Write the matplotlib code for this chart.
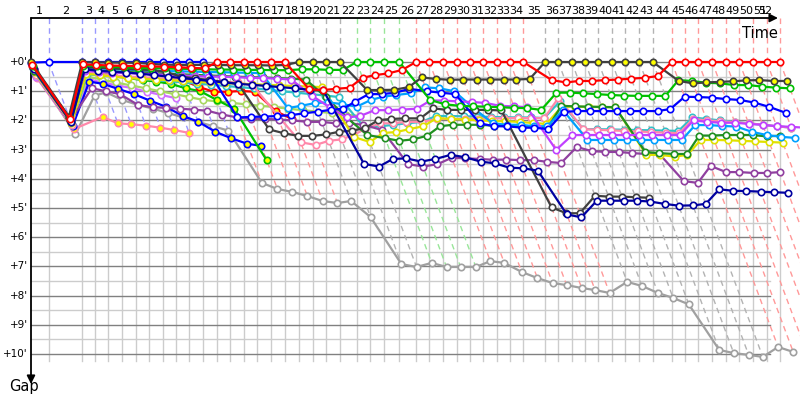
import matplotlib
matplotlib.use("Agg")
import matplotlib.pyplot as plt
from matplotlib.colors import to_rgb

# race time of the leader at the end of each lap, minutes (index 0 = start)
lap_time = [0.0, 1.61, 4.68, 5.87, 7.06, 8.35, 9.63, 10.83, 12.08, 13.28,
            14.52, 15.75, 17.04, 18.26, 19.54, 20.76, 21.99, 23.28, 24.61, 25.84,
            27.06, 28.35, 29.88, 31.10, 32.39, 33.79, 35.32, 36.54, 37.83, 39.06,
            40.28, 41.50, 42.78, 43.94, 45.17, 47.16, 48.38, 49.61, 50.83, 52.05,
            53.28, 54.50, 55.81, 57.04, 58.78, 60.00, 61.22, 62.50, 63.73, 64.98,
            66.21, 67.50, 68.72]
lap_labels = [str(i) for i in range(1, 53)]
gap_ticks = list(range(0, 11))

# gap to the leader at each lap, minutes
red_w = [0.1, 1.95, 0.08, 0.1, 0.12, 0.13, 0.14, 0.15, 0.16, 0.18, 0.2, 0.22,
         0, 0, 0, 0, 0, 0, 0.94, 0.96, 0.92, 0.88, 0.54, 0.45, 0.39, 0.27,
         0, 0, 0, 0, 0, 0, 0, 0, 0, 0.62, 0.7, 0.65, 0.65, 0.62, 0.6, 0.57, 0.54, 0.48,
         0, 0, 0, 0, 0, 0, 0, 0, 0]
black_y = [0.0, 1.87, 0.01, 0.01, 0.02, 0.02, 0.03, 0.06, 0.09, 0.1, 0.1, 0.1, 0.1,
           0.11, 0.11, 0.11, 0.12, 0.1, 0, 0, 0, 0, 0.96, 0.96, 0.95, 0.86,
           0.53, 0.58, 0.61, 0.6, 0.6, 0.6, 0.6, 0.6, 0.58, 0, 0, 0, 0, 0, 0, 0, 0, 0,
           0.65, 0.73, 0.7, 0.68, 0.66, 0.63, 0.62, 0.65, 0.65]
green_w = [0.15, 1.9, 0.12, 0.14, 0.16, 0.18, 0.2, 0.21, 0.22, 0.23, 0.24, 0.25, 0.26,
           0.26, 0.27, 0.27, 0.28, 0.28, 0.25, 0.25, 0.27, 0.27, 0, 0, 0, 0,
           1.3, 1.45, 1.5, 1.52, 1.53, 1.55, 1.57, 1.58, 1.64,
           1.05, 1.05, 1.07, 1.1, 1.13, 1.15, 1.16, 1.16, 1.16,
           0.62, 0.65, 0.71, 0.73, 0.79, 0.79, 0.84, 0.88, 0.9]
blue_w = [0.02, 0.0, 0, 0, 0, 0, 0, 0, 0, 0, 0, 0,
          1.9, 1.88, 1.87, 1.85, 1.82, 1.76, 1.7, 1.64, 1.6, 1.36, 1.1, 1.1, 1.05, 0.92,
          1.0, 1.05, 1.1, 2.1, 2.2, 2.2, 2.25, 2.25, 2.3, 1.71,
          1.68, 1.68, 1.68, 1.68, 1.68, 1.68, 1.68, 1.61,
          1.19, 1.2, 1.22, 1.27, 1.3, 1.39, 1.54, 1.74]
navy_w = [0.25, 2.05, 0.25, 0.3, 0.33, 0.36, 0.4, 0.45, 0.5, 0.55, 0.6, 0.65, 0.7,
          0.75, 0.78, 0.82, 0.86, 0.9, 0.95, 0.96, 3.49, 3.58, 3.32, 3.3, 3.41, 3.32,
          3.18, 3.26, 3.41, 3.47, 3.62, 3.64, 3.72, 5.22, 5.32, 4.75, 4.75, 4.75, 4.75,
          4.78, 4.86, 4.92, 4.91, 4.86, 4.36, 4.41, 4.42, 4.44, 4.46, 4.48]
black_w = [0.2, 2.0, 0.18, 0.2, 0.22, 0.24, 0.26, 0.27, 0.35, 0.5, 0.56, 0.62, 0.68,
           0.75, 2.31, 2.44, 2.53, 2.53, 2.48, 2.39, 2.35, 2.27, 1.99, 1.95, 1.93, 1.93,
           1.59, 1.64, 1.64, 1.64, 1.64, 1.66, 4.98, 5.18, 5.18,
           4.58, 4.61, 4.61, 4.63, 4.65]
gray_w = [0.3, 2.47, 1.15, 1.04, 1.3, 1.47, 1.6, 1.75, 1.9, 2.05, 2.2, 2.35,
          4.14, 4.35, 4.45, 4.59, 4.76, 4.83, 4.76, 5.31, 6.92, 7.02, 6.88, 7.02,
          7.02, 7.02, 6.82, 6.88, 7.19, 7.4, 7.57, 7.64, 7.74, 7.81, 7.91, 7.53,
          7.67, 7.91, 8.08, 8.3, 9.86, 9.97, 10.03, 10.1, 9.76, 9.93]
purple_w = [0.3, 2.0, 0.9, 1.0, 1.1, 1.47, 1.55, 1.57, 1.6, 1.63, 1.67,
            1.8, 1.9, 1.95, 1.95, 1.97, 2.0, 2.05, 2.05, 2.1, 2.1, 2.15,
            2.33, 3.5, 3.58, 3.5, 3.28, 3.3, 3.32, 3.35, 3.34, 3.36,
            3.36, 3.42, 3.46, 2.91, 3.05, 3.08, 3.08, 3.12, 3.15, 3.15,
            4.08, 4.14, 3.56, 3.77, 3.77, 3.8, 3.8, 3.77]
red_y = [0.12, 1.92, 0.1, 0.13, 0.16, 0.22, 0.27, 0.39, 0.5, 0.62, 0.85, 1.02,
         1.02, 0.99, 1.02, 1.68, 1.95]
green_y = [0.3, 2.0, 0.3, 0.38, 0.45, 0.55, 0.62, 0.67, 0.75, 0.9, 1.0, 1.3, 1.6, 3.36]
blue_y = [0.4, 2.2, 0.67, 0.75, 0.92, 1.1, 1.33, 1.53, 1.85, 2.04, 2.39, 2.61, 2.8, 2.87]
pink_y = [0.55, 2.3, 1.88, 2.1, 2.13, 2.18, 2.25, 2.33, 2.43]
violet_s = [0.5, 2.2, 0.6, 0.7, 0.8, 0.89, 1.02, 1.13, 1.24]
violet_w = [0.25, 1.95, 0.3, 0.33, 0.36, 0.38, 0.4, 0.42, 0.44, 0.46, 0.48, 0.5, 0.5,
            0.52, 0.54, 0.55, 0.57, 0.6, 1.15, 1.55, 1.9, 1.85, 1.65, 1.65, 1.63, 1.6,
            1.32, 1.32, 1.35, 1.37, 1.4, 1.5, 1.52, 1.55, 3.01,
            2.5, 2.5, 2.5, 2.5, 2.5, 2.5, 2.5, 2.5, 2.5,
            2.0, 2.05, 2.08, 2.08, 2.12, 2.15, 2.2, 2.22, 2.25]
pink_w = [0.45, 2.15, 0.35, 0.4, 0.45, 0.5, 0.52, 0.55, 0.58, 0.6, 0.62, 0.65, 0.68,
          0.7, 0.8, 1.8, 2.75, 2.84, 2.7, 2.65, 2.5, 2.3, 2.1, 2.1, 2.05, 2.05,
          1.95, 1.95, 1.95, 1.94, 1.93, 1.92, 1.92, 1.92, 1.92, 1.23,
          2.3, 2.32, 2.34, 2.36, 2.38, 2.4, 2.42, 2.44,
          1.95, 2.0, 2.03, 2.06, 2.1, 2.15, 2.2, 2.25]
yellow_w = [0.35, 2.1, 0.4, 0.45, 0.5, 0.55, 0.58, 0.6, 0.62, 0.65, 0.68, 0.7, 0.72,
            0.74, 0.76, 0.78, 0.8, 0.82, 0.84, 0.86, 2.57, 2.74, 2.43, 2.4, 2.3, 2.2,
            1.92, 1.95, 1.97, 2.0, 2.02, 2.03, 2.05, 2.09, 2.12,
            1.53, 1.53, 1.54, 1.54, 1.55, 3.18, 3.18, 3.24, 3.18,
            2.67, 2.67, 2.68, 2.7, 2.72, 2.74, 2.76]
dgreen_w = [0.3, 2.05, 0.28, 0.3, 0.32, 0.34, 0.36, 0.38, 0.4, 0.42, 0.44, 0.46, 0.48,
            0.5, 0.52, 0.53, 0.55, 0.57, 0.6, 1.2, 1.9, 2.5, 2.61, 2.7, 2.65, 2.53,
            2.2, 2.15, 2.15, 2.15, 2.18, 2.2, 2.2, 2.22, 2.25,
            1.5, 1.52, 1.53, 1.54, 1.55, 3.08, 3.12, 3.15, 3.15,
            2.52, 2.52, 2.5, 2.5, 2.5, 2.55, 2.52]
cyan_w = [0.2, 1.95, 0.2, 0.22, 0.24, 0.26, 0.28, 0.3, 0.31, 0.32, 0.33, 0.34, 0.35,
          0.36, 0.37, 0.38, 1.58, 1.5, 1.41, 1.38, 1.44, 1.53, 1.3, 1.19, 1.13, 1.07,
          0.87, 0.9, 1.0, 1.6, 2.1, 2.15, 2.15, 2.2, 2.2, 1.65,
          2.67, 2.67, 2.67, 2.67, 2.67, 2.67, 2.67, 2.67,
          2.16, 2.16, 2.19, 2.21, 2.39, 2.5, 2.56, 2.6]
turq_w = [0.45, 2.15, 0.42, 0.46, 0.5, 0.54, 0.58, 0.62, 0.66, 0.7, 0.74, 0.78, 0.82,
          0.86, 0.9, 0.95, 1.0, 1.05, 1.1, 1.15, 1.2, 2.25, 2.2, 2.15, 2.1, 2.05,
          1.85, 1.85, 1.86, 1.87, 1.88, 1.89, 1.9, 1.9, 1.92, 1.35,
          2.3, 2.3, 2.31, 2.32, 2.33, 2.34, 2.35, 2.36,
          1.9, 1.95, 2.0, 2.05, 2.1, 2.15, 2.2, 2.25]
lgreen_w = [0.35, 2.1, 0.5, 0.6, 0.7, 0.8, 0.9, 1.0, 1.1, 1.2, 1.3, 1.35, 1.4,
            1.45, 1.5, 1.54, 1.6, 1.65, 1.7, 1.75, 1.8, 1.85]

# (line colour, marker face, gaps), back to front
drivers = [
    ("#a0a0a0", "white", gray_w),
    ("#ff88aa", "yellow", pink_y),
    ("#d070ff", "white", violet_s),
    ("#a8d860", "white", lgreen_w),
    ("#0000ff", "yellow", blue_y),
    ("#00c000", "yellow", green_y),
    ("#ff0000", "yellow", red_y),
    ("#30c0c8", "white", turq_w),
    ("#ff88aa", "white", pink_w),
    ("#9040a0", "white", purple_w),
    ("#e0e000", "white", yellow_w),
    ("#209020", "white", dgreen_w),
    ("#00a0ff", "white", cyan_w),
    ("#c040ff", "white", violet_w),
    ("#404040", "white", black_w),
    ("#0000a0", "white", navy_w),
    ("#0000ff", "white", blue_w),
    ("#00c000", "white", green_w),
    ("#404040", "yellow", black_y),
    ("#ff0000", "white", red_w),
]

# pixel scale of the original picture: 10.9 px per minute across, 29.2 px down
X0, Y0, SX, SY = 31, 62, 10.9, 29.2


def tx(px):
    return (px - X0) / SX


def gy(py):
    return (py - Y0) / SY


def light(c, f=0.6):
    r, g, b = to_rgb(c)
    return (r + (1 - r) * f, g + (1 - g) * f, b + (1 - b) * f)


fig = plt.figure(figsize=(8, 4), dpi=100)
ax = fig.add_axes([0, 0, 1, 1])
ax.set_xlim(tx(0), tx(800))
ax.set_ylim(gy(400), gy(0))
ax.axis("off")

axis_y = gy(18)
grid_end = tx(770)

# horizontal grid
for m in gap_ticks:
    ax.plot([0, grid_end], [m, m], color="#808080", lw=1, zorder=1)
    if m < 10:
        ax.plot([0, grid_end], [m + 0.5, m + 0.5], color="#cccccc", lw=1, zorder=0)
    ax.text(tx(28), m, "+%d'" % m, ha="right", va="center", fontsize=7.5)

# lap lines: leader colour, vertical above the chart then diagonal through the gaps
tail_last = gray_w[-1]
for k in range(1, len(lap_time)):
    present = [(g[k], c) for c, f, g in drivers if len(g) > k]
    lead_col = min(present, key=lambda p: p[0])[1]
    reach = max(p[0] for p in present)
    if k >= len(gray_w):
        reach = max(reach, tail_last)
    t = lap_time[k]
    lc = light(lead_col)
    ax.plot([t, t], [0, 10.25], color="#cccccc", lw=1, zorder=0)
    ax.plot([t, t], [axis_y, 0], color=lc, lw=1, ls=(0, (4, 3)), zorder=1)
    ax.plot([t, t + reach], [0, reach], color=lc, lw=1, ls=(0, (4, 3)), zorder=1)
    lx = min((lap_time[k - 1] + t) / 2, tx(765))
    ax.text(lx, gy(11), lap_labels[k - 1], ha="center", va="center", fontsize=8)

# drivers
for i, (col, face, gaps) in enumerate(drivers):
    xs = [lap_time[k] + g for k, g in enumerate(gaps)]
    ax.plot(xs, gaps, color=col, lw=1.6, marker="o", ms=4.6, mfc=face,
            mec=col, mew=1.2, zorder=3 + i * 0.01)

# axes with arrows
ax.annotate("", xy=(tx(778), axis_y), xytext=(0, axis_y),
            arrowprops=dict(arrowstyle="-|>", color="black", lw=1.3,
                            mutation_scale=12, shrinkA=0, shrinkB=0))
ax.annotate("", xy=(0, gy(384)), xytext=(0, axis_y),
            arrowprops=dict(arrowstyle="-|>", color="black", lw=1.3,
                            mutation_scale=12, shrinkA=0, shrinkB=0))
ax.text(tx(760), gy(34), "Time", ha="center", va="center", fontsize=10.5)
ax.text(tx(24), gy(386), "Gap", ha="center", va="center", fontsize=10.5)

fig.savefig("out.png", dpi=100)
